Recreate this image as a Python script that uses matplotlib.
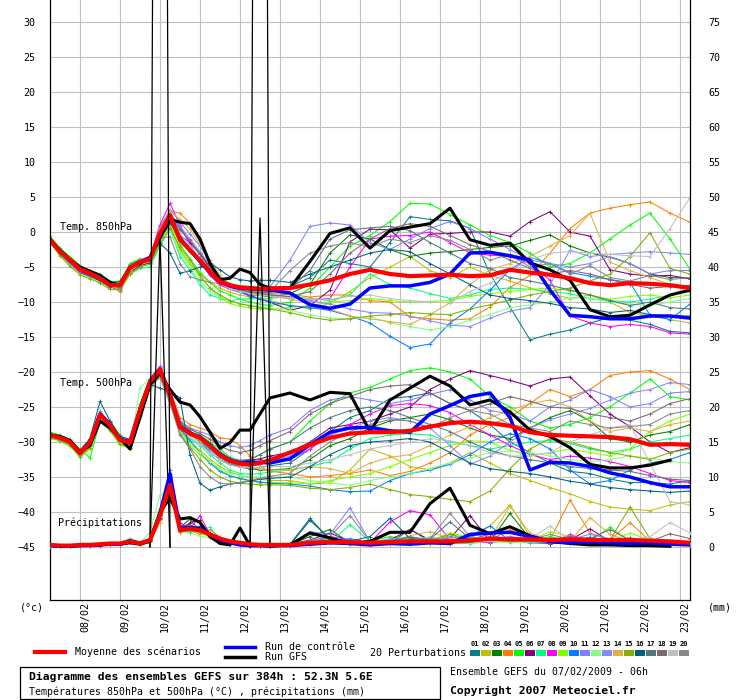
import matplotlib
matplotlib.use('Agg')
import matplotlib.pyplot as plt
import matplotlib.transforms as mtransforms
from matplotlib.patches import Rectangle
from matplotlib.lines import Line2D
import numpy as np

plt.rcParams['font.family'] = ['DejaVu Sans Mono', 'DejaVu Sans']

# ================= Data ===============
# echeances (heures depuis 07/02 06h) : pas de 6h jusqu'a 132h puis 12h
hours = list(range(0, 133, 6)) + list(range(144, 385, 12))
nan = np.nan

tick_hours = [18 + 24 * k for k in range(16)]
dates = ['08/02', '09/02', '10/02', '11/02', '12/02', '13/02', '14/02', '15/02',
         '16/02', '17/02', '18/02', '19/02', '20/02', '21/02', '22/02', '23/02']

pert_colors = ['#008080', '#c0c000', '#008000', '#ff8000', '#00ff00', '#800080', '#00ff80',
               '#ff00ff', '#80ff00', '#0080ff', '#8080ff', '#80ff80', '#8888ff', '#e0b040',
               '#80b000', '#006080', '#507880', '#806870', '#c0c0c0', '#888888']

# --- Temp 850hPa
t850_mean = [-1.1,-2.8,-4.0,-5.3,-5.9,-6.6,-7.6,-7.6,-5.1,-4.3,-3.9,-0.2,2.4,-1.1,-2.6,-4.0,-5.7,-7.1,-7.6,-7.9,-8.0,-8.1,-8.1,
             -8.0,-7.5,-6.9,-6.0,-5.4,-6.0,-6.3,-6.2,-6.1,-6.3,-6.2,-5.4,-5.8,-6.1,-6.6,-7.3,-7.6,-7.3,-7.4,-7.6,-8.0]
t850_ctrl = [-1.1,-2.8,-4.0,-5.2,-5.9,-6.5,-7.5,-7.6,-5.1,-4.3,-3.8,-0.3,2.2,-1.0,-2.6,-4.2,-5.8,-7.2,-7.7,-8.0,-8.1,-8.2,-8.3,
             -8.7,-10.4,-10.9,-10.3,-8.0,-7.7,-7.7,-7.2,-6.0,-3.0,-2.9,-3.4,-4.0,-8.3,-11.9,-12.1,-12.4,-12.4,-12.0,-12.0,-12.3]
t850_gfs = [-1.0,-2.6,-3.9,-5.0,-5.6,-6.2,-7.2,-7.6,-5.0,-4.5,-3.6,-0.8,1.8,1.4,1.2,-1.0,-4.5,-6.8,-6.6,-5.3,-5.8,-7.5,-8.0,
            -8.0,-4.2,-0.2,0.6,-2.3,0.2,0.7,1.2,3.4,-1.1,-1.9,-1.6,-4.4,-5.4,-6.9,-11.1,-12.1,-11.9,-10.4,-9.0,-8.3]

t850_01 = [-1.4,-3.0,-4.3,-5.5,-6.0,-6.8,-7.4,-7.2,-4.6,-4.0,-3.5,0.5,2.8,0.5,-1.5,-3.2,-5.0,-6.5,-7.5,-8.0,-8.3,-8.2,-8.0,
           -7.8,-6.5,-4.0,-4.5,-5.0,-1.5,2.2,1.8,1.6,0.5,-6.0,-10.7,-15.4,-14.6,-14.0,-13.0,-12.2,-12.6,-13.2,-14.2,-14.4]
t850_02 = [-1.3,-3.1,-4.4,-5.6,-6.2,-6.9,-7.8,-7.9,-5.6,-4.8,-4.3,-1.0,1.0,-2.5,-4.5,-6.0,-7.2,-8.0,-8.6,-9.0,-9.3,-9.5,-9.8,
           -10.5,-11.0,-10.2,-8.5,-6.5,-5.0,-3.5,-5.5,-6.5,-5.0,-6.2,-7.0,-8.0,-8.8,-9.5,-9.0,-10.0,-11.5,-12.0,-12.5,-13.0]
t850_03 = [-1.0,-2.7,-3.8,-5.0,-5.7,-6.3,-7.2,-7.0,-4.8,-4.0,-3.8,-0.5,1.8,-0.8,-2.2,-3.8,-5.5,-7.0,-7.8,-8.5,-9.0,-9.0,-9.3,
           -8.8,-7.5,-3.0,-0.4,-1.0,-2.5,-3.5,-3.0,-2.8,-2.5,-2.2,-2.0,-1.2,-0.4,-2.0,-3.0,-3.6,-4.5,-6.0,-6.5,-6.6]
t850_04 = [-1.2,-2.9,-4.1,-5.2,-5.8,-6.4,-7.5,-8.2,-5.5,-4.3,-3.6,0.8,3.0,2.7,1.2,-1.5,-4.5,-6.5,-7.6,-8.0,-8.4,-8.6,-8.8,
           -8.9,-9.3,-9.0,-9.0,-9.8,-10.0,-12.1,-12.4,-12.6,-12.4,-10.7,-7.9,-6.2,-3.0,0.5,2.7,3.4,3.9,4.3,2.7,1.4]
t850_05 = [-0.6,-2.3,-3.5,-4.8,-5.5,-6.0,-7.0,-7.3,-4.5,-3.8,-4.5,-1.2,1.5,-1.8,-3.8,-5.8,-7.2,-8.4,-9.0,-9.6,-10.0,-10.3,-10.5,
           -10.0,-8.0,-5.0,-2.0,-0.5,1.5,4.1,4.0,2.5,1.0,-0.5,-1.5,-3.0,-5.0,-4.5,-3.0,-1.0,1.0,2.7,-1.0,-5.3]
t850_06 = [-1.5,-3.2,-4.6,-5.8,-6.4,-7.0,-7.9,-8.0,-5.8,-4.8,-4.4,-1.3,1.2,-0.5,-1.5,-3.0,-5.0,-6.6,-7.5,-8.5,-9.0,-9.6,-10.0,
           -11.2,-10.5,-8.3,-1.4,0.4,0.3,-2.3,-0.3,-0.2,0.0,0.0,-0.6,1.5,2.9,0.0,-0.6,-5.4,-6.0,-6.3,-6.2,-6.7]
t850_07 = [-1.2,-3.0,-4.2,-5.5,-6.2,-6.8,-7.8,-8.3,-6.0,-5.2,-5.0,-2.0,0.5,-3.5,-5.5,-7.5,-9.0,-9.5,-9.8,-9.6,-9.5,-9.4,-9.5,
           -9.2,-9.5,-9.8,-9.0,-6.0,-7.5,-8.0,-8.8,-9.5,-9.0,-8.2,-8.0,-8.2,-8.5,-8.8,-9.5,-9.8,-10.0,-9.6,-9.0,-8.5]
t850_08 = [-1.3,-3.0,-4.5,-5.8,-6.1,-6.7,-7.8,-8.4,-5.0,-4.0,-3.5,1.0,4.1,1.0,-1.8,-4.2,-6.2,-7.6,-8.2,-8.6,-8.8,-9.0,-9.2,
           -9.4,-9.7,-9.5,-5.0,-1.0,-0.6,-0.5,0.0,-1.5,-3.0,-3.3,-3.5,-4.5,-6.9,-12.0,-13.0,-13.5,-13.2,-13.5,-14.4,-14.6]
t850_09 = [-0.8,-2.6,-3.8,-5.2,-5.8,-6.5,-7.4,-7.5,-5.2,-4.6,-4.2,-1.0,0.8,-2.8,-4.6,-6.4,-8.0,-9.4,-10.2,-10.6,-10.8,-11.0,-11.0,
           -10.8,-10.5,-10.0,-9.8,-9.5,-9.8,-10.0,-9.9,-9.8,-9.2,-8.8,-8.5,-8.2,-8.0,-8.4,-9.0,-9.6,-9.2,-9.0,-9.4,-9.0]
t850_10 = [-1.1,-2.8,-4.1,-5.4,-5.9,-6.5,-7.5,-7.7,-4.9,-4.2,-3.7,0.2,2.5,-0.5,-2.4,-4.0,-5.6,-7.0,-7.9,-8.6,-9.2,-9.6,-10.0,
           -10.5,-10.8,-11.2,-12.0,-13.0,-14.9,-16.5,-16.0,-13.0,-11.0,-8.3,-5.4,-3.6,-4.5,-5.8,-6.3,-6.8,-7.2,-11.9,-12.5,-10.3]
t850_11 = [-1.0,-2.6,-3.9,-5.2,-5.7,-6.2,-7.3,-7.6,-5.0,-4.1,-3.6,0.6,3.2,1.5,-0.3,-2.0,-4.4,-6.4,-7.4,-8.0,-8.2,-8.3,-7.8,
           -4.0,0.8,1.3,1.0,-1.5,-2.5,-1.0,0.5,1.5,0.5,-1.0,-2.5,-4.0,-4.5,-5.0,-4.5,-3.5,-4.5,-6.0,-5.5,-5.5]
t850_12 = [-1.4,-3.3,-4.7,-6.0,-6.5,-7.2,-8.0,-7.8,-5.4,-4.6,-4.2,-1.5,0.2,-3.0,-5.2,-7.0,-8.4,-9.3,-9.8,-10.2,-10.5,-10.6,-10.9,
           -11.2,-11.8,-12.3,-12.4,-12.1,-13.0,-13.5,-14.0,-13.5,-12.6,-11.8,-10.8,-10.4,-10.0,-9.4,-9.5,-10.0,-10.3,-10.5,-10.0,-9.5]
t850_13 = [-1.2,-2.9,-4.2,-5.4,-6.0,-6.6,-7.6,-8.0,-5.3,-4.4,-4.0,-0.3,2.6,0.8,-1.0,-2.8,-4.8,-6.8,-7.8,-8.4,-8.6,-8.7,-8.9,
           -9.3,-9.8,-10.3,-11.0,-11.5,-11.6,-12.0,-12.7,-13.3,-13.5,-12.3,-11.3,-10.8,-7.5,-2.6,-3.5,-3.2,-3.0,-2.8,-3.0,-3.2]
t850_14 = [-1.0,-2.5,-3.7,-5.0,-5.6,-6.3,-7.4,-8.5,-5.6,-4.4,-3.8,0.4,3.0,1.8,0.5,-1.8,-4.0,-6.2,-7.7,-8.3,-8.7,-8.9,-9.1,
           -9.6,-10.2,-11.0,-12.0,-12.4,-12.8,-13.2,-11.8,-10.1,-7.5,-5.4,-4.5,-3.5,-2.0,-0.5,2.7,-4.3,-5.5,-6.5,-7.5,-8.3]
t850_15 = [-1.5,-3.4,-4.9,-6.1,-6.7,-7.3,-8.2,-8.3,-6.0,-5.0,-4.6,-1.8,0.6,-2.2,-4.0,-6.2,-8.0,-9.0,-9.8,-10.3,-10.5,-10.8,-11.0,
           -11.5,-12.2,-12.6,-12.4,-12.0,-11.8,-11.5,-11.7,-11.8,-11.0,-10.4,-9.7,-9.0,-8.5,-8.0,-7.0,-6.0,-3.5,-0.1,-5.2,-6.0]
t850_16 = [-1.3,-3.0,-4.3,-5.6,-6.2,-6.9,-7.8,-7.5,-5.0,-4.2,-3.5,-1.6,-3.0,-5.9,-5.5,-5.0,-4.4,-5.4,-6.4,-6.8,-7.0,-6.9,-6.9,
           -7.2,-6.0,-5.0,-4.0,-3.0,-2.5,-2.8,-4.5,-6.0,-7.5,-9.0,-9.5,-9.8,-10.2,-10.8,-11.0,-11.5,-11.2,-11.8,-12.0,-12.0]
t850_17 = [-1.2,-2.9,-4.2,-5.5,-6.0,-6.7,-7.7,-7.8,-5.3,-4.5,-4.1,-0.8,1.6,-1.0,-2.8,-4.5,-6.0,-7.3,-7.9,-8.2,-8.5,-8.7,-8.6,
           -8.0,-5.5,-1.0,0.3,0.6,0.8,0.2,-1.5,-3.0,-4.5,-5.2,-6.5,-7.0,-7.6,-8.3,-9.0,-9.8,-10.5,-10.0,-10.8,-11.0]
t850_18 = [-1.1,-2.8,-4.0,-5.3,-5.9,-6.6,-7.6,-7.7,-5.0,-4.3,-3.9,-0.1,2.2,0.3,-1.2,-3.2,-5.2,-6.9,-7.8,-8.3,-8.6,-8.8,-9.0,
           -9.2,-8.5,-6.0,-3.0,-1.0,0.5,1.2,0.8,-0.5,-1.8,-2.8,-4.0,-5.2,-6.0,-5.5,-6.0,-6.8,-7.5,-8.0,-7.8,-7.6]
t850_19 = [-0.9,-2.7,-3.9,-5.1,-5.7,-6.4,-7.4,-7.5,-4.8,-4.1,-3.9,-0.6,1.9,-0.2,-2.0,-4.0,-5.8,-7.4,-8.1,-8.5,-8.8,-9.0,-9.2,
           -9.4,-9.6,-9.6,-9.2,-9.0,-9.5,-9.8,-10.0,-10.1,-8.5,-7.3,-5.5,-4.0,-3.0,-2.8,-3.0,-3.2,-3.4,-3.5,0.5,4.9]
t850_20 = [-1.2,-2.9,-4.1,-5.4,-6.0,-6.7,-7.5,-7.7,-5.3,-4.4,-3.8,-0.8,-0.7,-4.5,-6.4,-6.8,-7.2,-7.4,-7.6,-7.9,-8.2,-8.4,-8.5,
           -5.5,-3.0,-2.0,-1.5,-2.2,-1.0,-1.5,-0.5,-1.2,-2.5,-4.0,-3.2,-5.0,-4.5,-6.0,-4.8,-6.5,-7.0,-6.2,-6.8,-6.5]

# --- Temp 500hPa
t500_mean = [-29.0,-29.4,-30.0,-31.6,-30.1,-26.1,-27.6,-29.7,-30.1,-25.4,-21.4,-19.7,-23.3,-27.9,-28.8,-29.4,-30.5,-31.9,-32.7,-33.1,-33.2,-33.0,-32.6,
             -31.5,-30.4,-29.4,-28.8,-28.6,-28.6,-28.4,-27.8,-27.3,-27.1,-27.3,-27.7,-28.6,-29.0,-29.1,-29.2,-29.3,-29.6,-30.4,-30.3,-30.4]
t500_ctrl = [-29.0,-29.4,-30.0,-31.6,-30.0,-26.0,-27.5,-29.6,-30.0,-25.3,-21.3,-19.6,-23.2,-27.8,-28.7,-29.3,-30.4,-31.8,-32.6,-33.0,-32.9,-32.9,-33.0,
             -32.4,-30.4,-28.6,-28.0,-27.9,-28.4,-28.6,-26.0,-24.8,-23.5,-23.0,-26.5,-34.0,-32.9,-33.0,-33.5,-34.4,-35.0,-35.8,-36.4,-36.4]
t500_gfs = [-29.0,-29.2,-29.8,-31.4,-30.5,-27.0,-28.0,-29.5,-31.0,-26.5,-21.8,-20.2,-22.5,-24.3,-24.7,-26.4,-28.6,-30.9,-30.1,-28.3,-28.3,-26.0,-23.7,
            -23.0,-24.0,-22.9,-23.1,-28.5,-24.0,-22.3,-20.6,-22.0,-24.7,-24.0,-25.7,-28.3,-29.2,-30.8,-33.2,-33.7,-33.7,-33.3,-32.6,nan]

t500_01 = [-29.2,-29.6,-30.3,-31.8,-30.4,-26.5,-27.9,-29.9,-30.4,-25.8,-21.8,-20.0,-23.0,-27.0,-28.5,-30.0,-31.5,-32.5,-33.2,-33.6,-33.8,-33.6,-33.4,
           -33.0,-31.0,-28.5,-26.5,-25.5,-23.8,-23.5,-23.0,-24.5,-25.5,-27.5,-30.0,-31.5,-33.0,-34.2,-34.5,-35.3,-35.8,-35.8,-36.0,-35.5]
t500_02 = [-29.1,-29.5,-30.1,-31.9,-30.6,-26.8,-28.0,-30.0,-30.8,-26.0,-22.0,-20.5,-24.0,-28.5,-30.0,-31.2,-32.5,-33.5,-34.3,-34.8,-35.0,-35.3,-35.5,
           -35.5,-36.0,-35.8,-34.0,-31.0,-32.0,-33.5,-34.0,-33.0,-31.5,-33.0,-34.5,-35.5,-36.5,-37.4,-38.5,-39.3,-39.6,-39.8,-39.0,-38.5]
t500_03 = [-28.8,-29.2,-29.8,-31.2,-29.6,-25.8,-27.4,-29.4,-29.8,-25.2,-21.5,-19.8,-23.2,-27.5,-28.8,-29.8,-31.0,-32.2,-33.0,-33.5,-33.8,-34.0,-34.0,
           -33.8,-32.5,-30.5,-29.5,-28.0,-27.0,-26.5,-26.0,-26.8,-28.0,-29.0,-29.5,-28.0,-26.5,-25.5,-27.0,-29.5,-30.0,-29.0,-28.5,-27.5]
t500_04 = [-29.3,-29.6,-30.2,-31.7,-30.2,-26.0,-27.5,-29.6,-30.0,-25.5,-21.2,-19.4,-22.5,-26.5,-27.5,-28.0,-28.5,-29.4,-29.6,-30.5,-32.0,-33.5,-34.2,
           -34.5,-35.0,-34.8,-34.5,-34.0,-34.8,-34.2,-33.0,-31.5,-29.0,-27.5,-26.5,-24.5,-22.5,-23.5,-22.5,-20.5,-20.0,-19.8,-21.0,-22.5]
t500_05 = [-28.6,-29.0,-29.6,-31.0,-32.3,-27.1,-27.0,-29.0,-31.0,-24.5,-21.0,-19.6,-22.8,-27.2,-28.0,-29.0,-30.0,-31.0,-32.2,-32.8,-32.5,-31.8,-31.0,
           -30.0,-27.0,-24.5,-23.0,-22.2,-21.0,-19.8,-19.4,-20.0,-21.0,-23.5,-25.0,-27.0,-28.0,-27.5,-26.5,-25.0,-23.0,-21.0,-23.5,-24.0]
t500_06 = [-29.0,-29.3,-30.0,-31.5,-30.0,-26.0,-27.3,-29.5,-29.9,-25.3,-21.3,-19.5,-23.0,-27.6,-28.5,-29.3,-30.5,-31.5,-32.5,-32.8,-32.6,-32.4,-32.0,
           -31.5,-30.0,-28.0,-27.5,-27.0,-26.0,-25.0,-22.5,-21.0,-19.8,-20.5,-21.2,-22.0,-21.0,-20.7,-23.4,-26.0,-27.8,-30.0,-31.5,-30.8]
t500_07 = [-29.4,-29.8,-30.4,-32.0,-30.8,-26.8,-28.2,-30.2,-30.6,-26.2,-22.2,-20.2,-23.8,-28.2,-29.5,-30.5,-31.8,-33.0,-34.0,-34.5,-34.6,-34.5,-34.3,
           -34.0,-33.5,-32.8,-31.0,-29.5,-29.0,-28.8,-29.0,-30.0,-30.5,-31.0,-30.5,-30.0,-29.8,-30.2,-31.0,-31.5,-31.0,-30.0,-29.5,-29.0]
t500_08 = [-28.9,-29.3,-29.9,-31.5,-30.0,-25.9,-27.5,-29.6,-30.0,-25.0,-20.9,-19.2,-22.8,-27.5,-28.5,-29.3,-30.3,-31.6,-32.6,-33.0,-33.2,-33.0,-32.8,
           -32.5,-31.0,-29.0,-27.5,-26.0,-24.8,-24.5,-24.8,-25.8,-27.5,-29.0,-30.5,-31.8,-32.5,-32.0,-32.3,-32.8,-33.5,-34.5,-35.5,-35.8]
t500_09 = [-29.5,-29.9,-30.6,-32.2,-31.0,-27.0,-28.4,-30.4,-30.9,-26.5,-22.5,-20.6,-24.2,-28.8,-30.5,-31.8,-33.0,-34.0,-34.8,-35.3,-35.6,-35.8,-35.8,
           -35.8,-36.0,-35.5,-35.0,-34.5,-33.5,-32.5,-31.5,-30.5,-29.8,-30.0,-31.2,-32.0,-31.5,-31.0,-31.5,-32.0,-31.0,-28.5,-27.0,-26.0]
t500_10 = [-29.2,-29.5,-30.0,-31.6,-30.2,-26.2,-27.8,-29.8,-30.2,-25.6,-21.6,-19.9,-23.5,-28.2,-29.8,-31.5,-33.0,-34.2,-34.8,-35.2,-35.5,-35.7,-35.9,
           -36.0,-36.3,-36.8,-37.1,-37.0,-35.5,-34.5,-34.0,-33.2,-31.8,-30.0,-28.8,-29.5,-31.0,-34.0,-36.0,-35.5,-34.0,-33.0,-32.5,-31.5]
t500_11 = [-28.8,-29.2,-29.8,-31.3,-29.8,-25.6,-27.2,-29.3,-29.7,-25.0,-21.0,-19.3,-22.8,-27.0,-28.0,-28.5,-29.0,-30.0,-30.5,-30.8,-30.5,-29.8,-29.0,
           -28.0,-25.5,-24.0,-23.5,-24.0,-24.5,-24.0,-23.2,-22.5,-24.0,-25.5,-26.0,-27.0,-25.0,-24.0,-22.5,-23.5,-25.0,-24.5,-23.0,-22.8]
t500_12 = [-29.3,-29.7,-30.4,-32.1,-30.7,-26.6,-28.1,-30.1,-30.6,-22.3,-20.8,-20.0,-24.0,-28.6,-30.2,-31.5,-32.8,-33.8,-34.5,-34.8,-35.0,-35.0,-35.0,
           -35.0,-35.5,-35.8,-36.2,-35.5,-35.0,-34.5,-33.8,-33.0,-32.3,-31.5,-31.3,-31.5,-32.0,-32.5,-32.8,-32.5,-32.0,-32.3,-32.8,-33.0]
t500_13 = [-29.0,-29.4,-30.0,-31.5,-30.1,-26.1,-27.6,-29.7,-30.1,-25.4,-21.5,-19.8,-23.2,-27.8,-29.0,-30.0,-31.2,-32.2,-33.0,-33.4,-33.5,-33.2,-32.8,
           -32.0,-30.5,-29.0,-28.0,-27.0,-26.5,-27.0,-28.0,-30.5,-33.2,-32.0,-30.0,-28.0,-26.8,-26.0,-25.2,-24.0,-23.0,-22.5,-21.5,-21.8]
t500_14 = [-29.1,-29.5,-30.1,-31.8,-30.3,-26.3,-27.8,-29.9,-30.3,-25.7,-21.7,-20.0,-23.5,-28.0,-29.0,-29.8,-30.6,-31.8,-32.8,-33.3,-33.6,-33.8,-34.0,
           -34.0,-33.5,-33.8,-34.5,-33.0,-32.2,-31.8,-30.5,-29.0,-27.8,-26.5,-25.5,-24.5,-24.0,-25.0,-27.0,-28.5,-28.0,-28.5,-27.5,-27.0]
t500_15 = [-29.4,-29.8,-30.5,-32.1,-30.8,-26.9,-28.3,-30.3,-30.8,-26.3,-22.3,-20.4,-24.1,-28.8,-30.8,-32.5,-34.0,-35.0,-35.6,-35.9,-36.0,-36.1,-36.1,
           -36.2,-36.6,-36.8,-36.5,-36.0,-36.8,-37.5,-37.8,-38.2,-38.5,-37.0,-33.8,-31.0,-29.5,-30.0,-30.8,-31.5,-32.0,-32.5,-31.5,-31.0]
t500_16 = [-29.0,-29.3,-29.8,-31.2,-29.5,-24.2,-27.0,-29.2,-29.6,-25.0,-21.8,-22.3,-22.8,-23.7,-31.9,-35.9,-36.9,-36.4,-36.0,-35.8,-35.6,-35.3,-35.2,
           -35.0,-33.5,-31.8,-30.5,-30.0,-29.8,-29.5,-30.0,-31.5,-33.0,-33.8,-34.2,-34.5,-35.0,-35.6,-36.0,-36.5,-36.8,-37.0,-37.2,-37.0]
t500_17 = [-28.9,-29.3,-29.9,-31.4,-30.0,-26.0,-27.5,-29.6,-30.0,-25.3,-21.3,-19.6,-23.1,-27.6,-28.6,-29.3,-30.3,-31.4,-32.3,-32.6,-32.5,-31.8,-31.0,
           -30.0,-28.0,-26.5,-25.5,-25.0,-25.5,-26.5,-27.5,-28.5,-30.0,-31.2,-32.0,-32.5,-33.0,-33.5,-33.8,-34.0,-34.2,-34.8,-35.3,-35.5]
t500_18 = [-28.8,-29.1,-29.7,-31.2,-29.8,-25.8,-27.3,-29.4,-29.8,-25.1,-21.1,-19.4,-22.9,-27.3,-28.2,-28.8,-29.6,-30.6,-31.2,-31.5,-31.2,-30.5,-29.8,
           -28.5,-26.0,-24.5,-23.5,-22.5,-22.0,-21.8,-23.0,-24.5,-25.5,-24.5,-23.5,-24.2,-25.0,-25.2,-26.0,-26.5,-27.0,-26.0,-24.5,-23.8]
t500_19 = [-29.1,-29.5,-30.1,-31.7,-30.2,-26.2,-27.7,-29.8,-30.2,-25.6,-21.6,-19.9,-23.5,-28.0,-29.3,-30.3,-31.5,-32.6,-33.3,-33.6,-33.7,-33.6,-33.5,
           -33.5,-33.0,-32.5,-31.8,-31.0,-30.5,-30.0,-29.5,-29.8,-30.5,-31.5,-32.0,-32.0,-31.5,-30.0,-29.0,-28.0,-27.5,-33.0,-38.5,-39.0]
t500_20 = [-29.2,-29.6,-30.2,-31.8,-30.3,-26.3,-27.8,-29.9,-30.3,-25.8,-22.0,-20.8,-24.5,-29.0,-31.0,-33.5,-35.0,-35.9,-36.0,-35.8,-35.5,-35.2,-34.9,
           -34.5,-32.0,-30.0,-28.5,-27.5,-26.8,-27.0,-28.0,-26.5,-25.5,-26.0,-27.5,-28.0,-28.5,-27.0,-27.5,-28.0,-27.8,-27.5,-26.0,-25.5]

# --- Precipitations (mm)
rr_mean = [0.3,0.2,0.2,0.3,0.3,0.4,0.5,0.5,0.8,0.5,1.0,4.5,8.9,2.4,2.6,2.4,1.8,1.2,0.8,0.6,0.4,0.3,0.3,
           0.3,0.6,0.7,0.7,0.6,0.7,0.8,0.8,0.8,0.9,1.2,1.1,1.1,1.0,1.1,1.0,1.0,1.0,0.9,0.8,0.6]
rr_ctrl = [0.2,0.1,0.1,0.2,0.2,0.3,0.4,0.4,0.9,0.5,1.0,4.8,10.5,2.6,2.8,2.6,1.8,1.0,0.6,0.3,0.2,0.2,0.2,
           0.2,0.4,0.6,0.5,0.3,0.5,0.4,0.6,0.5,1.8,2.0,2.1,1.5,0.8,0.6,0.7,0.6,0.5,0.6,0.4,0.3]
rr_gfs = [0.2,0.1,0.1,0.2,0.3,0.3,0.5,0.4,0.6,0.4,0.8,5.0,7.0,4.0,4.2,3.5,1.5,0.5,0.3,2.7,0.2,0.2,0.1,
          0.3,2.0,1.3,0.5,0.8,2.1,2.1,6.2,8.4,3.1,1.9,2.9,1.6,0.8,0.5,0.3,0.3,0.2,0.2,0.1,nan]
# pics GFS hors echelle (traits fins), seulement autour des pics
rr_gfs_pic = [nan,nan,nan,nan,nan,nan,nan,nan,nan,nan,0,310,0,nan,nan,nan,nan,nan,nan,nan,0,310,0,
              nan,nan,nan,nan,nan,nan,nan,nan,nan,nan,nan,nan,nan,nan,nan,nan,nan,nan,nan,nan,nan]
rr_gfs_pic2 = [nan,nan,nan,nan,nan,nan,nan,nan,nan,nan,0,44,0,nan,nan,nan,nan,nan,nan,nan,0,47,0,
               nan,nan,nan,nan,nan,nan,nan,nan,nan,nan,nan,nan,nan,nan,nan,nan,nan,nan,nan,nan,nan]

rr_01 = [0.2,0.1,0.1,0.2,0.3,0.2,0.4,0.5,1.2,0.6,0.9,4.5,9.5,3.0,3.2,2.0,1.8,1.0,0.6,0.4,0.3,0.2,0.2,
         0.4,4.1,1.0,0.5,0.8,0.6,2.5,0.8,0.5,0.6,1.5,0.8,0.6,0.5,1.2,0.8,0.6,0.5,0.4,0.3,0.3]
rr_02 = [0.1,0.1,0.2,0.2,0.2,0.3,0.3,0.4,0.6,0.3,0.7,3.5,8.5,2.0,2.5,3.0,1.5,0.9,0.5,0.3,0.2,0.3,0.2,
         0.2,0.5,0.8,0.3,0.5,1.0,0.6,0.8,0.5,1.2,3.0,6.0,1.5,0.6,0.8,1.0,0.5,0.7,0.6,0.4,0.3]
rr_03 = [0.2,0.2,0.1,0.1,0.3,0.3,0.5,0.4,0.8,0.5,1.0,5.0,10.0,2.8,4.0,2.2,2.0,1.2,0.7,0.4,0.3,0.2,0.1,
         0.3,1.5,2.5,0.6,0.4,0.8,1.2,0.9,0.6,1.0,0.8,4.8,1.2,0.5,0.6,1.4,0.8,0.6,1.0,0.5,0.4]
rr_04 = [0.1,0.2,0.2,0.3,0.2,0.4,0.4,0.3,0.7,0.4,0.8,3.8,8.0,3.2,2.4,1.8,2.5,1.4,0.6,0.3,0.2,0.2,0.2,
         0.2,0.3,0.6,0.4,0.3,0.6,0.5,0.5,0.4,0.8,1.0,2.5,1.5,1.0,6.7,2.0,1.0,3.5,0.8,0.6,0.4]
rr_05 = [0.3,0.2,0.1,0.2,0.3,0.3,0.4,0.5,1.0,0.6,1.2,5.5,10.5,2.5,2.0,2.8,1.5,0.8,0.5,0.3,0.2,0.2,0.2,
         0.3,0.6,1.2,0.5,0.8,1.5,1.0,0.6,1.8,1.2,0.6,1.0,0.8,1.5,0.7,0.9,2.8,0.8,0.6,0.5,0.5]
rr_06 = [0.2,0.1,0.2,0.2,0.2,0.3,0.5,0.4,0.9,0.5,0.9,4.2,9.0,2.2,3.5,3.8,1.6,1.0,0.6,0.4,0.3,0.2,0.2,
         0.4,1.0,2.0,0.8,0.6,1.0,2.5,1.0,1.2,4.5,0.8,1.0,0.7,0.6,1.0,2.6,0.8,0.6,0.9,0.5,0.4]
rr_07 = [0.2,0.2,0.2,0.1,0.2,0.2,0.3,0.4,0.8,0.4,0.8,4.8,9.8,2.6,2.2,2.5,2.8,1.1,0.5,0.3,0.2,0.2,0.1,
         0.2,0.8,0.6,3.2,0.8,0.5,0.7,0.8,0.6,0.5,0.8,0.7,0.6,0.8,0.5,0.7,0.6,0.9,0.5,0.4,0.3]
rr_08 = [0.1,0.1,0.1,0.2,0.3,0.3,0.4,0.3,0.7,0.5,1.0,4.0,9.2,3.5,2.6,4.5,1.8,0.9,0.6,0.4,0.2,0.2,0.2,
         0.3,0.5,1.5,1.0,0.6,3.6,5.2,4.6,1.0,0.8,0.6,1.5,1.0,0.6,1.8,0.7,0.5,1.2,0.7,0.5,0.4]
rr_09 = [0.2,0.2,0.2,0.2,0.2,0.4,0.4,0.4,1.1,0.5,1.1,5.2,8.8,2.4,2.6,2.0,1.4,0.8,0.5,0.3,0.3,0.2,0.2,
         0.3,0.8,1.0,0.6,0.9,0.7,1.2,0.8,2.0,1.4,1.0,0.8,0.9,2.2,1.5,1.0,0.8,2.0,1.0,0.6,0.5]
rr_10 = [0.2,0.1,0.1,0.2,0.2,0.3,0.3,0.5,1.0,0.6,1.0,4.6,11.0,2.7,3.0,2.4,1.6,1.0,0.6,0.3,0.2,0.2,0.2,
         0.2,0.5,0.8,1.2,0.6,0.8,1.5,0.9,0.8,1.6,3.0,0.9,1.2,0.8,0.7,1.4,0.9,0.7,0.8,0.5,0.4]
rr_11 = [0.1,0.2,0.1,0.2,0.3,0.2,0.4,0.4,0.8,0.4,0.9,4.3,9.4,2.3,2.8,3.0,1.7,1.1,0.6,0.4,0.2,0.3,0.2,
         0.4,2.2,1.8,5.6,0.8,0.6,1.0,0.8,1.5,0.9,0.8,1.1,0.7,0.9,1.6,0.8,0.7,0.8,0.6,0.5,0.4]
rr_12 = [0.2,0.2,0.2,0.2,0.3,0.3,0.5,0.6,1.3,0.7,2.0,7.5,8.0,2.2,2.0,1.6,1.3,0.7,0.4,0.3,0.2,0.2,0.1,
         0.2,0.4,0.6,0.5,0.4,0.6,0.8,1.5,0.7,0.6,0.8,0.6,0.7,0.9,0.6,0.8,0.6,0.7,1.2,0.6,0.4]
rr_13 = [0.2,0.1,0.2,0.3,0.2,0.3,0.4,0.4,0.9,0.5,0.9,4.4,9.6,2.9,2.4,2.6,1.9,1.0,0.6,0.3,0.2,0.2,0.2,
         0.3,0.9,1.4,0.7,0.6,1.2,0.9,1.3,1.0,0.8,1.2,1.5,0.8,0.7,1.1,1.8,1.2,0.9,0.8,0.6,0.5]
rr_14 = [0.1,0.1,0.2,0.2,0.2,0.3,0.3,0.4,0.7,0.4,0.8,3.6,8.6,2.1,3.0,2.2,1.5,0.9,0.5,0.3,0.2,0.2,0.2,
         0.2,0.6,0.8,0.5,1.0,0.8,1.6,2.2,1.2,1.0,1.2,5.8,2.0,1.0,0.8,4.2,1.8,0.8,0.7,0.6,0.5]
rr_15 = [0.2,0.2,0.1,0.2,0.3,0.3,0.4,0.5,1.0,0.5,1.0,4.9,9.1,2.6,2.3,2.1,1.7,0.8,0.6,0.3,0.3,0.2,0.2,
         0.3,0.4,0.7,0.6,0.8,0.5,0.7,1.0,1.8,0.8,1.0,0.8,0.9,1.0,1.2,0.9,1.0,5.7,1.2,0.8,0.5]
rr_16 = [0.2,0.2,0.2,0.2,0.2,0.3,0.4,0.4,0.8,0.6,1.0,4.1,10.2,3.1,2.7,2.9,1.6,1.0,0.6,0.4,0.2,0.2,0.2,
         0.3,3.8,1.2,0.8,1.5,4.1,1.2,0.9,0.8,1.3,0.9,1.0,1.4,0.8,0.9,1.1,0.8,1.3,0.9,0.7,0.5]
rr_17 = [0.1,0.2,0.1,0.2,0.2,0.3,0.4,0.4,0.9,0.5,0.9,4.7,9.3,2.5,2.5,2.3,1.8,1.1,0.6,0.3,0.2,0.2,0.2,
         0.3,0.7,1.0,0.6,0.7,0.9,1.4,1.1,3.6,1.2,1.0,0.9,1.0,0.8,0.9,1.0,0.8,0.9,0.8,0.6,0.5]
rr_18 = [0.2,0.1,0.2,0.2,0.3,0.3,0.3,0.4,0.8,0.4,0.8,4.0,8.9,2.4,2.9,2.4,1.5,0.9,0.5,0.4,0.2,0.2,0.2,
         0.2,0.8,0.9,0.7,0.5,0.8,1.0,0.7,0.9,1.1,1.8,0.9,0.8,1.0,1.5,1.2,2.5,1.0,0.8,1.9,1.2]
rr_19 = [0.2,0.2,0.2,0.2,0.2,0.3,0.4,0.4,0.9,0.5,1.0,4.5,9.7,2.8,2.6,2.5,1.7,1.0,0.5,0.3,0.2,0.2,0.2,
         0.2,0.5,0.7,0.8,0.6,0.9,0.8,1.0,0.7,0.9,0.8,1.0,1.2,3.0,1.0,0.9,1.2,1.0,1.5,3.5,2.0]
rr_20 = [0.2,0.2,0.1,0.2,0.3,0.3,0.4,0.5,1.0,0.5,1.0,4.6,9.0,2.6,2.7,2.6,1.8,1.0,0.6,0.4,0.2,0.2,0.2,
         0.3,0.9,1.5,4.5,0.8,0.7,1.0,1.2,4.8,1.5,1.0,1.4,1.0,1.8,1.1,1.0,1.0,0.8,0.9,0.7,0.5]

t850_perts = [t850_01, t850_02, t850_03, t850_04, t850_05, t850_06, t850_07, t850_08, t850_09, t850_10,
              t850_11, t850_12, t850_13, t850_14, t850_15, t850_16, t850_17, t850_18, t850_19, t850_20]
t500_perts = [t500_01, t500_02, t500_03, t500_04, t500_05, t500_06, t500_07, t500_08, t500_09, t500_10,
              t500_11, t500_12, t500_13, t500_14, t500_15, t500_16, t500_17, t500_18, t500_19, t500_20]
rr_perts = [rr_01, rr_02, rr_03, rr_04, rr_05, rr_06, rr_07, rr_08, rr_09, rr_10,
            rr_11, rr_12, rr_13, rr_14, rr_15, rr_16, rr_17, rr_18, rr_19, rr_20]

# ================= Figure ===============
W, H = 740, 700
def fx(px):
    return px / W
def fy(py):
    return 1 - py / H

fig = plt.figure(figsize=(7.4, 7.0), dpi=100)
ax = fig.add_axes([fx(50), fy(600), 640 / W, 602 / H])
ax.set_xlim(0, 384)
ax.set_ylim(-368 / 7, 234 / 7)
ax.set_axisbelow(True)

ax.set_yticks(np.arange(-45, 31, 5))
ax.set_xticks(tick_hours, labels=dates, rotation=90)
ax.grid(True, color='#c0c0c0', linewidth=0.8)
ax.tick_params(axis='y', length=0, pad=10.5, labelsize=7.2)
ax.tick_params(axis='x', length=0, pad=1.5, labelsize=7.2)
for lab in ax.get_xticklabels():
    lab.set_transform(lab.get_transform() + mtransforms.ScaledTranslation(5 / 100, 0, fig.dpi_scale_trans))
for sp in ax.spines.values():
    sp.set_linewidth(0.9)

# axe des precipitations (meme echelle, decale de 45)
ax2 = ax.twinx()
ax2.set_ylim(-368 / 7 + 45, 234 / 7 + 45)
ax2.set_yticks(np.arange(0, 76, 5))
ax2.tick_params(axis='y', length=0, pad=13, labelsize=7.2)
for sp in ax2.spines.values():
    sp.set_visible(False)

# perturbations
for i in range(20):
    c = pert_colors[i]
    ax.plot(hours, t850_perts[i], color=c, lw=0.75, marker='+', ms=3, mew=0.6)
    ax.plot(hours, t500_perts[i], color=c, lw=0.75, marker='+', ms=3, mew=0.6)
    ax2.plot(hours, rr_perts[i], color=c, lw=0.75, marker='+', ms=3, mew=0.6)

# GFS
ax.plot(hours, t850_gfs, color='black', lw=2.2)
ax.plot(hours, t500_gfs, color='black', lw=2.2)
ax2.plot(hours, rr_gfs_pic, color='black', lw=0.9, solid_joinstyle='round')
ax2.plot(hours, rr_gfs_pic2, color='black', lw=0.9, solid_joinstyle='round')
ax2.plot(hours, rr_gfs, color='black', lw=2.2)

# controle
ax.plot(hours, t850_ctrl, color='#0000ff', lw=2.5)
ax.plot(hours, t500_ctrl, color='#0000ff', lw=2.5)
ax2.plot(hours, rr_ctrl, color='#0000ff', lw=2.5)

# moyenne
ax.plot(hours, t850_mean, color='#ff0000', lw=3.0)
ax.plot(hours, t500_mean, color='#ff0000', lw=3.0)
ax2.plot(hours, rr_mean, color='#ff0000', lw=3.0)

# ================= Texts ===============
fig.text(fx(60), fy(227), 'Temp. 850hPa', fontsize=7.2, va='center')
fig.text(fx(60), fy(383), 'Temp. 500hPa', fontsize=7.2, va='center')
fig.text(fx(58), fy(523), 'Précipitations', fontsize=7.2, va='center')
fig.text(fx(20), fy(607), '(°c)', fontsize=7.2, va='center')
fig.text(fx(708), fy(607), '(mm)', fontsize=7.2, va='center')

# legende
fig.add_artist(Line2D([fx(35), fx(65)], [fy(652), fy(652)], color='#ff0000', lw=3.0, transform=fig.transFigure))
fig.text(fx(75), fy(652), 'Moyenne des scénarios', fontsize=7.2, va='center')
fig.add_artist(Line2D([fx(225), fx(255)], [fy(647), fy(647)], color='#0000ff', lw=2.5, transform=fig.transFigure))
fig.add_artist(Line2D([fx(225), fx(255)], [fy(657), fy(657)], color='black', lw=2.5, transform=fig.transFigure))
fig.text(fx(265), fy(647), 'Run de contrôle', fontsize=7.2, va='center')
fig.text(fx(265), fy(657), 'Run GFS', fontsize=7.2, va='center')
fig.text(fx(370), fy(653), '20 Perturbations', fontsize=7.2, va='center')
for i in range(20):
    fig.add_artist(Rectangle((fx(470 + 11 * i), fy(656)), 10 / W, 6 / H, transform=fig.transFigure,
                             facecolor=pert_colors[i], edgecolor='none'))
    fig.text(fx(475 + 11 * i), fy(644), '%02d' % (i + 1), fontsize=5.0, weight='bold', ha='center', va='center')

# cadre du titre
fig.add_artist(Rectangle((fx(20), fy(699)), 420 / W, 32 / H, transform=fig.transFigure,
                         fill=False, edgecolor='black', lw=0.9))
fig.text(fx(29), fy(677), 'Diagramme des ensembles GEFS sur 384h : 52.3N 5.6E', fontsize=8.2,
         weight='bold', va='center')
fig.text(fx(29), fy(692), 'Températures 850hPa et 500hPa (°C) , précipitations (mm)', fontsize=7.1, va='center')
fig.text(fx(450), fy(672), 'Ensemble GEFS du 07/02/2009 - 06h', fontsize=7.1, va='center')
fig.text(fx(450), fy(691), 'Copyright 2007 Meteociel.fr', fontsize=8.2, weight='bold', va='center')

fig.savefig('out.png', dpi=100)
